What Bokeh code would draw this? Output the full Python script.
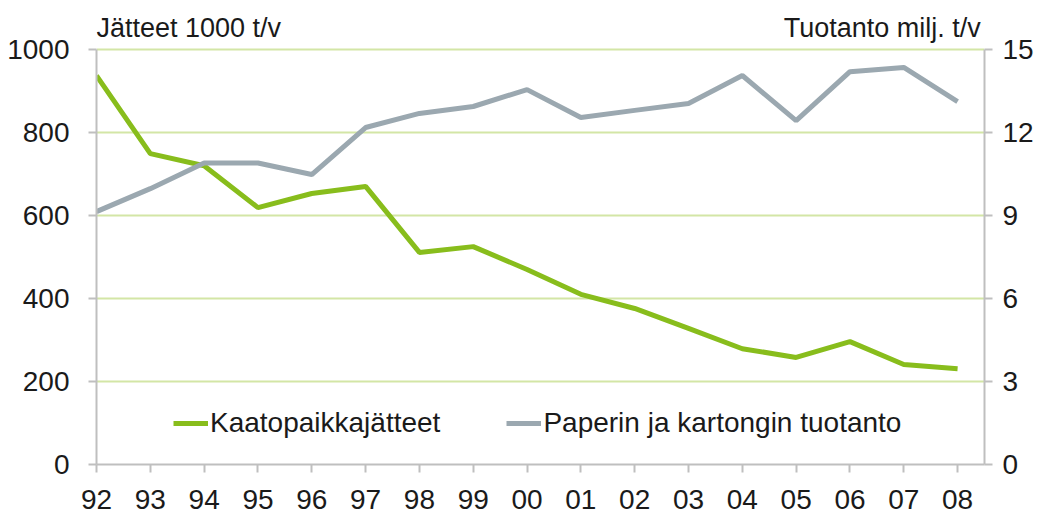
from bokeh.plotting import figure
from bokeh.models import Range1d, LinearAxis, FixedTicker, Label, Legend, LegendItem
from bokeh.embed import file_html
from bokeh.resources import INLINE

years = ["92", "93", "94", "95", "96", "97", "98", "99", "00", "01", "02", "03", "04", "05", "06", "07", "08"]
waste = [937, 749, 720, 619, 653, 670, 511, 525, 470, 410, 376, 328, 279, 258, 296, 241, 231]
production = [9.14, 9.97, 10.9, 10.9, 10.48, 12.18, 12.69, 12.94, 13.55, 12.54, 12.8, 13.05, 14.06, 12.43, 14.2, 14.35, 13.12]
left_ticks = [0, 200, 400, 600, 800, 1000]
right_ticks = [0, 3, 6, 9, 12, 15]
left_title = "Jätteet 1000 t/v"
right_title = "Tuotanto milj. t/v"
series_names = ["Kaatopaikkajätteet", "Paperin ja kartongin tuotanto"]

FONT = "Liberation Sans"
GREEN = "#88bd1c"
GREY = "#9ba8b0"
GRID = "#d3e6a6"
AXIS = "#bfbfbf"
TEXT = "#1a1a1a"

xs = list(range(len(years)))
left_max = left_ticks[-1]
right_max = right_ticks[-1]
top_ext = 1.11807  # extra headroom above the axes for the unit titles

p = figure(width=1046, height=519, output_backend="svg", toolbar_location=None,
           x_range=Range1d(0, len(years) - 0.5), y_range=Range1d(0, left_max * top_ext),
           min_border_left=96, min_border_right=62, min_border_top=0, min_border_bottom=55)
p.outline_line_color = None
p.extra_y_ranges = {"prod": Range1d(0, right_max * top_ext)}


def style(ax):
    ax.axis_line_color = AXIS
    ax.axis_line_width = 2
    ax.major_tick_line_color = AXIS
    ax.major_tick_line_width = 2
    ax.major_tick_out = 8
    ax.major_tick_in = 0
    ax.minor_tick_line_color = None
    ax.major_label_text_font = FONT
    ax.major_label_text_font_size = "28px"
    ax.major_label_text_color = TEXT


style(p.xaxis[0])
style(p.yaxis[0])
p.xaxis.ticker = FixedTicker(ticks=xs)
p.xaxis.major_label_overrides = {i: y for i, y in enumerate(years)}
p.xaxis.major_label_standoff = 17
p.yaxis.ticker = FixedTicker(ticks=left_ticks)
p.yaxis.bounds = (0, left_max)
p.yaxis.major_label_standoff = 19

right = LinearAxis(y_range_name="prod", ticker=FixedTicker(ticks=right_ticks), bounds=(0, right_max))
style(right)
right.major_label_standoff = 10
p.add_layout(right, "right")

p.xgrid.grid_line_color = None
p.ygrid.grid_line_color = GRID
p.ygrid.grid_line_width = 2
p.ygrid.ticker = FixedTicker(ticks=left_ticks[1:])

r1 = p.line(xs, waste, line_color=GREEN, line_width=5)
r2 = p.line(xs, production, line_color=GREY, line_width=5, y_range_name="prod")

legend = Legend(items=[LegendItem(label=series_names[0], renderers=[r1]),
                       LegendItem(label=series_names[1], renderers=[r2])],
                orientation="horizontal", location=(77, 25),
                glyph_width=35, glyph_height=20, label_standoff=2, spacing=66,
                padding=0, margin=0, border_line_alpha=0, background_fill_alpha=0,
                label_text_font=FONT, label_text_font_size="28px", label_text_color=TEXT)
p.add_layout(legend, "center")

p.add_layout(Label(x=0, y=1053, text=left_title, text_align="left", text_baseline="alphabetic",
                   text_font=FONT, text_font_size="27px", text_color=TEXT))
p.add_layout(Label(x=16.43, y=1053, text=right_title, text_align="right", text_baseline="alphabetic",
                   text_font=FONT, text_font_size="27px", text_color=TEXT))

open("out.html", "w").write(file_html(p, INLINE))
